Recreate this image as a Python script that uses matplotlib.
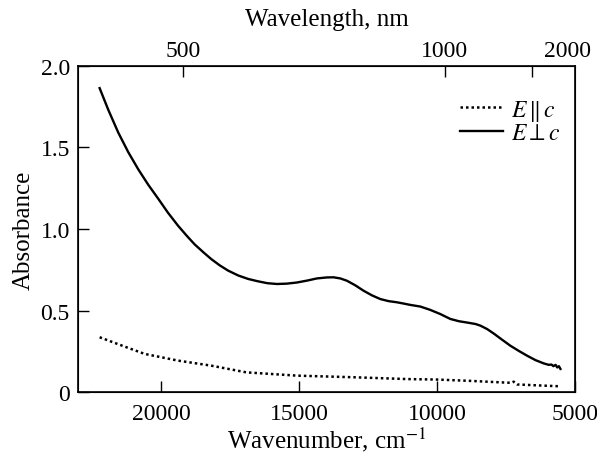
import matplotlib
matplotlib.use("Agg")
import matplotlib.pyplot as plt

plt.rcParams['font.family'] = ['Liberation Serif', 'DejaVu Serif']
plt.rcParams['mathtext.fontset'] = 'stix'

# E perpendicular c (solid)
wn_perp = [22224, 21912, 21549, 21186, 20824, 20460, 20100, 19750, 19383, 19050,
           18777, 18450, 18175, 17870, 17569, 17200, 16844, 16500, 16150, 15802,
           15450, 15077, 14700, 14351, 14000, 13749, 13500, 13263, 12960, 12661,
           12350, 12055, 11750, 11449, 11200, 10966, 10603, 10250, 9878, 9515,
           9200, 8909, 8600, 8425, 8180, 7944, 7640, 7338, 7030, 6732,
           6430, 6130, 5950, 5850, 5780, 5700, 5640, 5580, 5524]
abs_perp = [1.862, 1.730, 1.590, 1.470, 1.365, 1.270, 1.185, 1.100, 1.020, 0.955,
            0.905, 0.855, 0.815, 0.777, 0.745, 0.715, 0.694, 0.680, 0.668, 0.663,
            0.665, 0.672, 0.684, 0.697, 0.703, 0.704, 0.697, 0.683, 0.655, 0.622,
            0.593, 0.571, 0.558, 0.551, 0.543, 0.535, 0.525, 0.505, 0.479, 0.449,
            0.435, 0.427, 0.418, 0.408, 0.387, 0.360, 0.322, 0.285, 0.253, 0.224,
            0.197, 0.177, 0.168, 0.170, 0.160, 0.168, 0.152, 0.160, 0.143]

# E parallel c (dotted)
wn_par = [22224, 21400, 20591, 19383, 18175, 16905, 15077, 13000, 11086, 9998,
          8800, 7701, 7300, 7219, 7095, 6300, 5586]
abs_par = [0.337, 0.285, 0.235, 0.194, 0.163, 0.122, 0.102, 0.092, 0.081, 0.078,
           0.070, 0.061, 0.058, 0.065, 0.048, 0.042, 0.037]

x_ticks = [20000, 15000, 10000, 5000]
y_ticks = [0, 0.5, 1.0, 1.5, 2.0]
y_labels = ['0', '0.5', '1.0', '1.5', '2.0']
# top axis: tick marks and label positions (in cm-1, as drawn in the original)
top_marks = [19213, 9722, 6551]
top_label_pos = [19213, 9722, 5270]
top_labels = ['500', '1000', '2000']

fig = plt.figure(figsize=(5.97, 4.56), dpi=100)
ax = fig.add_axes([0.131, 0.1375, 0.832, 0.7165])

ax.plot(wn_par, abs_par, color='black', lw=1.8, linestyle=(0, (1, 1.2)),
        label=r'$E\,\|\,c$')
ax.plot(wn_perp, abs_perp, color='black', lw=1.7, label=r'$E\perp c$')

ax.set_xlim(23000, 5000)
ax.set_ylim(0, 2.0)
ax.set_xticks(x_ticks)
ax.set_yticks(y_ticks)
ax.set_yticklabels(y_labels)
ax.tick_params(direction='in', length=8, width=1, labelsize=17, pad=6)
ax.tick_params(axis='x', top=False, pad=8)
for s in ax.spines.values():
    s.set_linewidth(1.2)

ax.set_xlabel(r'Wavenumber, cm$^{-1}$', fontsize=18, labelpad=0)
ax.set_ylabel('Absorbance', fontsize=18, labelpad=4)

ax2 = ax.twiny()
ax2.set_xlim(ax.get_xlim())
ax2.xaxis.remove_overlapping_locs = False
ax2.set_xticks(top_label_pos)
ax2.set_xticklabels(top_labels)
ax2.set_xticks(top_marks, minor=True)
ax2.tick_params(which='major', direction='in', length=0, labelsize=17, pad=3)
ax2.tick_params(which='minor', direction='in', length=8, width=1)
ax2.set_xlabel('Wavelength, nm', fontsize=18, labelpad=11)

leg = ax.legend(loc='upper right', frameon=False, fontsize=17,
                handlelength=1.8, handletextpad=0.35, labelspacing=0.0,
                bbox_to_anchor=(1.0, 0.945), borderaxespad=0.2)

fig.savefig('out.png', dpi=100)
